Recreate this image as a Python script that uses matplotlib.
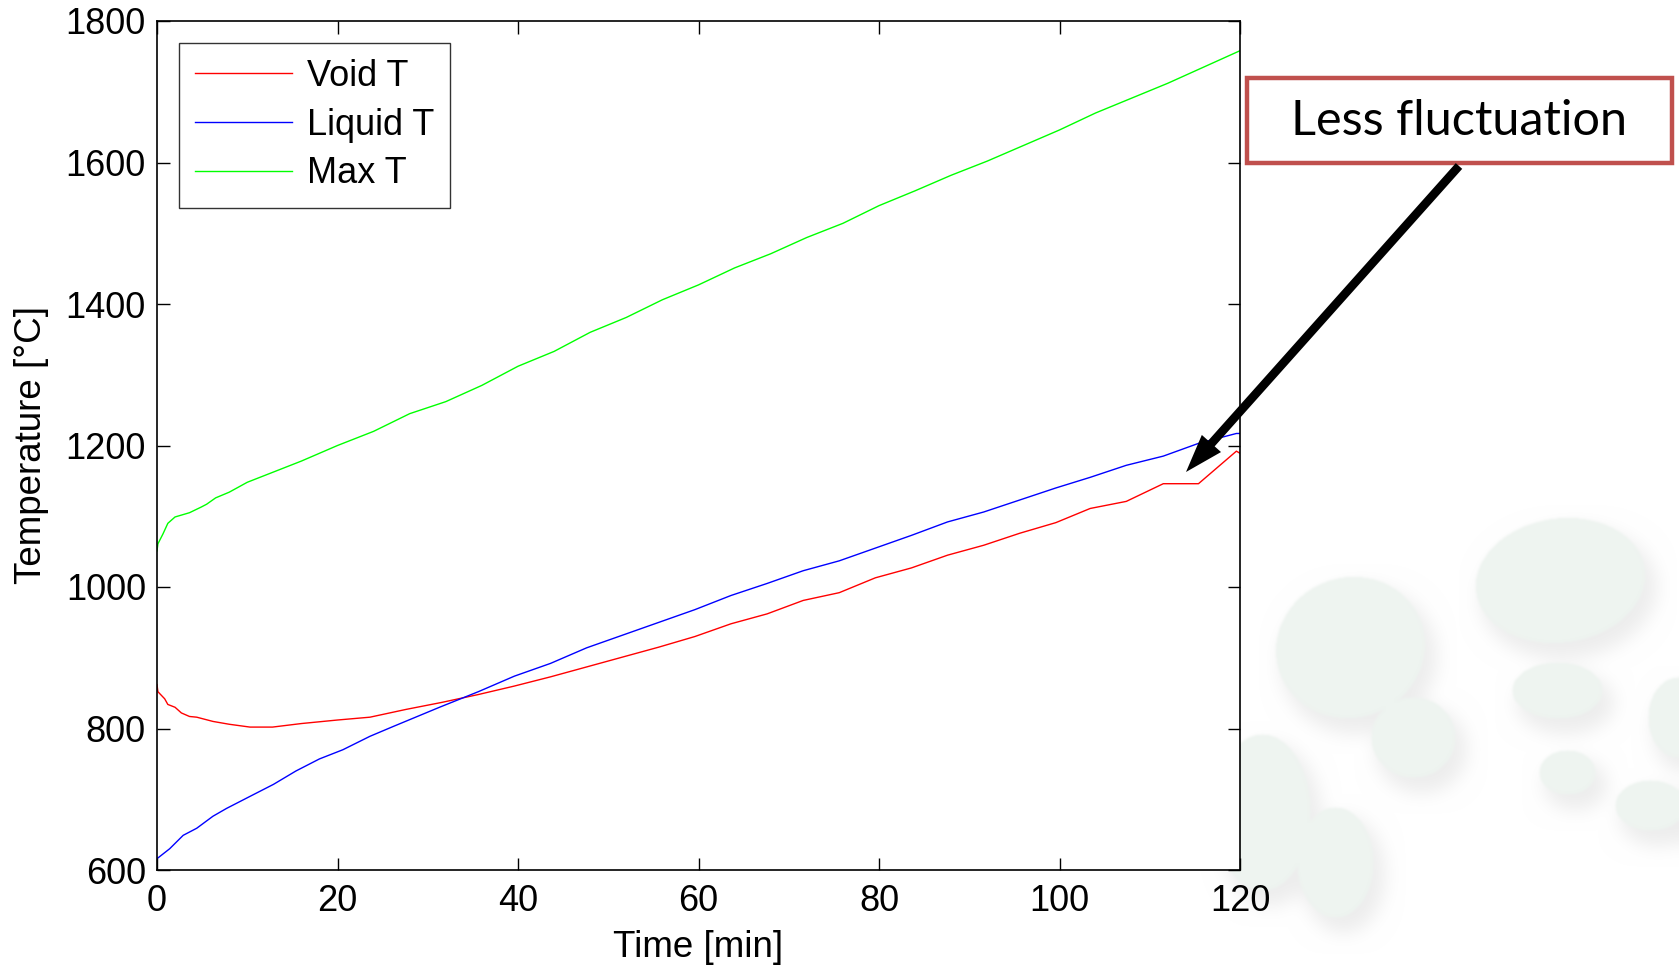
import numpy as np
import matplotlib
matplotlib.use("Agg")
import matplotlib.pyplot as plt
from matplotlib.patches import Rectangle, FancyArrowPatch

W, H = 1679, 967

# temperature histories [min], [degC]
void_t = [0, 0.1, 0.85, 1.2, 2.0, 2.7, 3.6, 4.4, 6.2, 8.0, 10.3, 12.8, 16, 20, 23.6,
          27.6, 31.6, 35.6, 39.6, 43.6, 47.6, 51.6, 55.6, 59.6, 63.6, 67.6, 71.6, 75.6,
          79.6, 83.6, 87.6, 91.6, 95.6, 99.6, 103.4, 107.4, 111.5, 115.4, 119.6, 120]
void_T = [862, 852, 842, 834, 830, 822, 817, 816, 810, 806, 802, 802, 807, 812, 816,
          827, 837, 848, 860, 873, 887, 901, 915, 930, 948, 962, 981, 992,
          1013, 1027, 1045, 1059, 1076, 1091, 1111, 1121, 1146, 1146, 1192, 1189]

liq_t = [0, 1.4, 2.9, 4.4, 6.2, 7.7, 10.6, 12.9, 15.4, 18, 20.6, 23.6, 26.2, 31.3,
         35.6, 39.6, 43.6, 47.6, 51.6, 55.6, 59.6, 63.6, 67.6, 71.6, 75.6, 79.6, 83.6,
         87.6, 91.6, 95.6, 99.6, 103.4, 107.4, 111.5, 115.4, 119.6, 120]
liq_T = [616, 630, 649, 659, 676, 687, 706, 721, 740, 757, 770, 789, 803, 830,
         852, 874, 892, 914, 932, 950, 968, 988, 1005, 1023, 1037, 1055, 1073,
         1092, 1106, 1123, 1140, 1155, 1172, 1185, 1203, 1217, 1217]

max_t = [0, 0.1, 0.66, 1.2, 2, 3.6, 4.9, 5.5, 6.5, 8, 10, 12, 16, 20, 24, 28, 32, 36,
         40, 44, 48, 52, 56, 60, 64, 68, 72, 76, 80, 84, 88, 92, 96, 100, 104, 108,
         112, 116, 120]
max_T = [1051, 1061, 1075, 1090, 1099, 1105, 1113, 1117, 1126, 1134, 1148, 1158, 1178,
         1200, 1220, 1245, 1262, 1285, 1312, 1333, 1360, 1381, 1406, 1427, 1451, 1471,
         1494, 1514, 1539, 1560, 1582, 1602, 1624, 1646, 1670, 1691, 1712, 1735, 1758]

series_names = ["Void T", "Liquid T", "Max T"]
note_text = "Less fluctuation"

plt.rcParams['font.family'] = ['Liberation Sans', 'DejaVu Sans']


def blur(img, r):
    # two passes of a box filter along each axis
    k = np.ones(2 * r + 1) / (2 * r + 1)
    for _ in range(2):
        img = np.apply_along_axis(lambda v: np.convolve(np.pad(v, r, mode='edge'), k, 'valid'), 0, img)
        img = np.apply_along_axis(lambda v: np.convolve(np.pad(v, r, mode='edge'), k, 'valid'), 1, img)
    return img


def ellipse_mask(cx, cy, a, b, ang=0.0):
    yy, xx = np.mgrid[0:H, 0:W]
    c, s = np.cos(np.radians(ang)), np.sin(np.radians(ang))
    dx, dy = xx - cx, yy - cy
    u = (dx * c + dy * s) / a
    v = (-dx * s + dy * c) / b
    return (u * u + v * v <= 1).astype(float)


# faint pebbles in the lower right of the slide
pebbles = [(1560, 580, 85, 62, -8), (1350, 647, 75, 70, -20), (1557, 690, 45, 28, 0),
           (1413, 737, 42, 40, 0), (1262, 812, 48, 78, 0), (1335, 862, 38, 55, 0),
           (1567, 772, 28, 22, 0), (1678, 717, 30, 40, 0), (1650, 805, 35, 25, 0)]
shadow = np.zeros((H, W))
fill = np.zeros((H, W))
for cx, cy, a, b, ang in pebbles:
    shadow = np.maximum(shadow, ellipse_mask(cx + 8, cy + 12, a + 4, b + 4, ang))
    fill = np.maximum(fill, ellipse_mask(cx, cy, a, b, ang))
shadow = blur(shadow, 10)
fill = blur(fill, 1)
bg = np.ones((H, W, 3))
bg -= 0.07 * shadow[..., None]
peb = np.array([238, 244, 240]) / 255.0
bg = bg * (1 - fill[..., None]) + peb * fill[..., None]

fig = plt.figure(figsize=(W / 100, H / 100), dpi=100)
bax = fig.add_axes([0, 0, 1, 1], zorder=-1)
bax.imshow(bg, aspect='auto', interpolation='bilinear')
bax.axis('off')

ax = fig.add_axes([157 / W, 1 - 870 / H, (1240 - 157) / W, (870 - 21) / H], zorder=1)
ax.set_facecolor('white')
ax.plot(void_t, void_T, color='#ff0000', lw=1.0, label=series_names[0])
ax.plot(liq_t, liq_T, color='#0000ff', lw=1.0, label=series_names[1])
ax.plot(max_t, max_T, color='#00ff00', lw=1.0, label=series_names[2])

ax.set_xlim(0, 120)
ax.set_ylim(600, 1800)
ax.set_xticks(range(0, 121, 20))
ax.set_yticks(range(600, 1801, 200))
ax.tick_params(direction='in', top=True, right=True, length=9, width=1,
               labelsize=26)
ax.tick_params(axis='x', pad=10)
ax.tick_params(axis='y', pad=8)
for s in ax.spines.values():
    s.set_linewidth(1.2)
ax.set_xlabel("Time [min]", fontsize=26.5, labelpad=8)
ax.set_ylabel("Temperature [\u00b0C]", fontsize=26.5, labelpad=12)

leg = ax.legend(loc='upper left', fontsize=26, frameon=True, fancybox=False,
                edgecolor='black', handlelength=2.7, handletextpad=0.4,
                borderaxespad=0.6, labelspacing=0.38, borderpad=0.45)
leg.get_frame().set_linewidth(1.0)

# callout box and arrow
fig.patches.append(Rectangle((1247 / W, 1 - 163 / H), 425 / W, 85 / H,
                             transform=fig.transFigure, facecolor='white',
                             edgecolor='#c0504d', lw=3.2, zorder=3))
fig.text(1459 / W, 1 - 121 / H, note_text, fontsize=35, family=['Lato', 'DejaVu Sans'],
         ha='center', va='center', zorder=4)
fig.patches.append(FancyArrowPatch((1459 / W, 1 - 166 / H), (1186 / W, 1 - 472 / H),
                                   transform=fig.transFigure, color='black', lw=0,
                                   arrowstyle='simple,head_length=2.75,head_width=1.85,tail_width=0.62',
                                   mutation_scale=10, shrinkA=0, shrinkB=0, zorder=5))

fig.savefig("out.png", dpi=100)
